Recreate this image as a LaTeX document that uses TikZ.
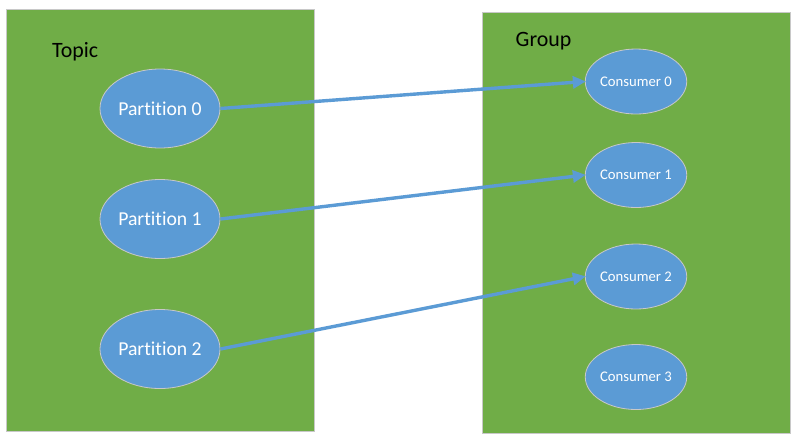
\documentclass[tikz,border=0pt]{standalone}
\usepackage{fontspec}
\setmainfont[Ligatures={NoCommon}]{Carlito}
\usetikzlibrary{arrows.meta,shapes.geometric}
\definecolor{boxgreen}{HTML}{70AD47}
\definecolor{ellblue}{HTML}{5B9BD5}
\definecolor{edgegray}{HTML}{C8C8C8}
\tikzset{
  panel/.style={draw=edgegray, line width=1pt, fill=boxgreen},
  partell/.style={ellipse, draw=edgegray, line width=0.8pt, fill=ellblue, text=white,
    minimum width=120pt, minimum height=79pt, inner sep=0pt, font=\fontsize{19.7}{22}\selectfont},
  consell/.style={ellipse, draw=edgegray, line width=0.8pt, fill=ellblue, text=white,
    minimum width=98pt, minimum height=65pt, inner sep=0pt, font=\fontsize{14.7}{17}\selectfont},
  title/.style={anchor=base west, inner sep=0pt, text=black, font=\fontsize{21.9}{24}\selectfont},
  link/.style={draw=ellblue, line width=3.4pt, -{Triangle[length=13pt,width=12pt]}, shorten >=-1pt}
}
\begin{document}
\begin{tikzpicture}[x=1pt,y=-1pt]
\useasboundingbox (0,0) rectangle (797,440);
\fill[white] (0,0) rectangle (797,440);
\path[panel] (6.5,9.5) rectangle (314.5,431) coordinate (leftpanel);
\path[panel] (482.5,12.5) rectangle (790.5,433) coordinate (rightpanel);
\node[title] (topic) at (52,57.5) {Topic};
\node[title] (group) at (515.5,46.7) {Group};
\node[partell] (p0) at (160,108.5) {Partition 0};
\node[partell] (p1) at (160,219) {Partition 1};
\node[partell] (p2) at (160,349) {Partition 2};
\node[consell] (c0) at (636,81.5) {Consumer 0};
\node[consell] (c1) at (636,175) {Consumer 1};
\node[consell] (c2) at (636,276.5) {Consumer 2};
\node[consell] (c3) at (636,377) {Consumer 3};
\draw[link] (p0.east) -- (c0.west);
\draw[link] (p1.east) -- (c1.west);
\draw[link] (p2.east) -- (c2.west);
\end{tikzpicture}
\end{document}
